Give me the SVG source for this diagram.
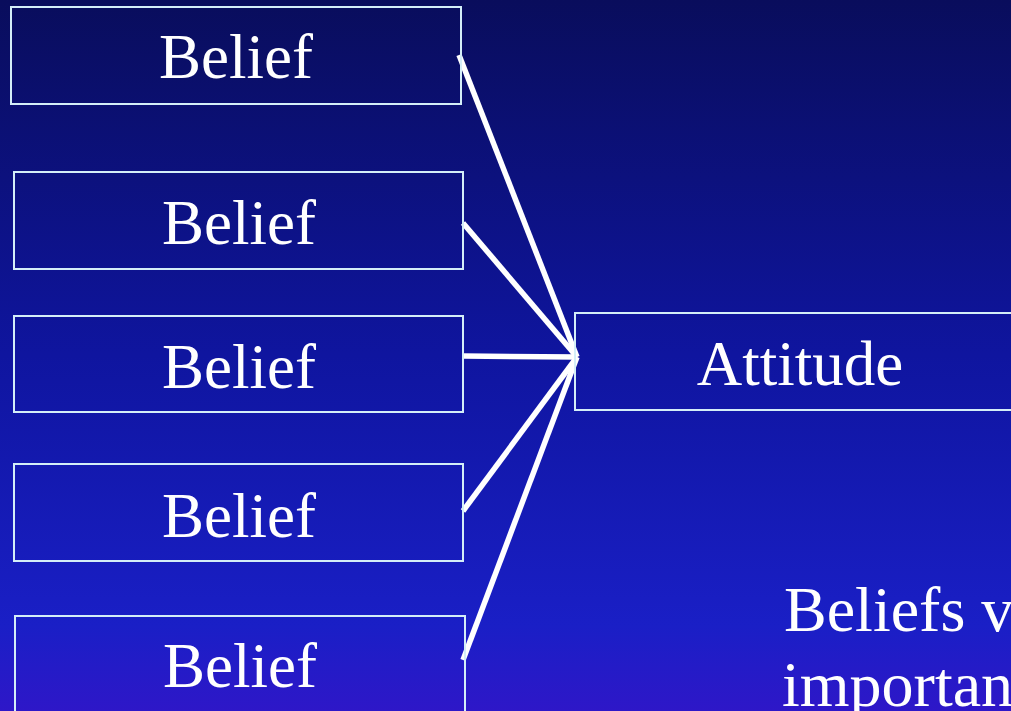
<svg xmlns="http://www.w3.org/2000/svg" width="1011" height="711" viewBox="0 0 1011 711">
<defs>
<linearGradient id="bg" x1="0" y1="0" x2="0" y2="1">
<stop offset="0" stop-color="#090d5c"/>
<stop offset="0.5" stop-color="#0f159f"/>
<stop offset="0.88" stop-color="#1a1fc6"/>
<stop offset="1" stop-color="#2e17c8"/>
</linearGradient>
<style>
.box{fill:none;stroke:#d4eef8;stroke-width:2}
.lbl{font-family:"Liberation Serif","Times New Roman",serif;font-size:63px;fill:#ffffff;text-anchor:middle}
.note{font-family:"Liberation Serif","Times New Roman",serif;font-size:64px;fill:#ffffff}
.con{stroke:#ffffff;stroke-width:5.5;fill:none;stroke-linecap:butt}
</style>
</defs>
<rect x="0" y="0" width="1011" height="711" fill="url(#bg)"/>
<g id="connectors">
<line class="con" x1="459" y1="55" x2="577" y2="357"/>
<line class="con" x1="463" y1="223" x2="577" y2="357"/>
<line class="con" x1="463" y1="356" x2="577" y2="357"/>
<line class="con" x1="463" y1="511" x2="577" y2="357"/>
<line class="con" x1="463" y1="660" x2="577" y2="357"/>
</g>
<g id="belief1"><rect class="box" x="11" y="7" width="450" height="97"/><text class="lbl" x="236" y="78">Belief</text></g>
<g id="belief2"><rect class="box" x="14" y="172" width="449" height="97"/><text class="lbl" x="239" y="244">Belief</text></g>
<g id="belief3"><rect class="box" x="14" y="316" width="449" height="96"/><text class="lbl" x="239" y="388">Belief</text></g>
<g id="belief4"><rect class="box" x="14" y="464" width="449" height="97"/><text class="lbl" x="239" y="537">Belief</text></g>
<g id="belief5"><rect class="box" x="15" y="616" width="450" height="110"/><text class="lbl" x="240" y="687">Belief</text></g>
<g id="attitude"><rect class="box" x="575" y="313" width="460" height="97"/><text class="lbl" x="800" y="385">Attitude</text></g>
<g id="note"><text class="note" x="784" y="631">Beliefs va</text><text class="note" x="782" y="706">importan</text></g>
</svg>
